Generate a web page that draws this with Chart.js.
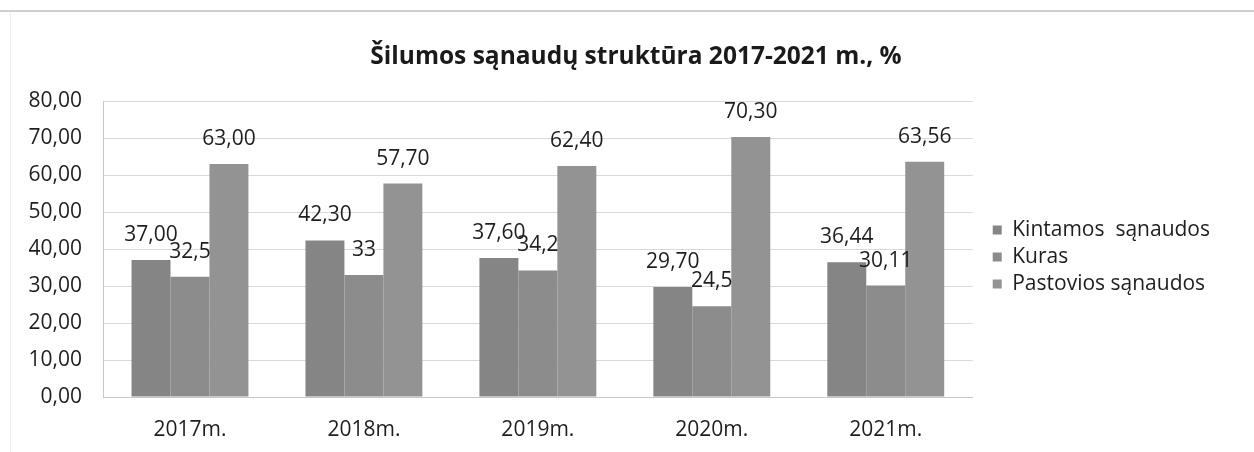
<!DOCTYPE html>
<html>
<head>
<meta charset="utf-8">
<script src="https://cdn.jsdelivr.net/npm/chart.js@4"></script>
<style>
  body { margin: 0; background: #fff; }
  #wrap { position: relative; width: 1254px; height: 452px; }
  #topline { position: absolute; left: 0; top: 10px; width: 1254px; height: 2px; background: #cfcfcf; }
  #leftline { position: absolute; left: 10px; top: 12px; width: 1px; height: 440px; background: #eeeeee; }
  canvas { position: absolute; left: 0; top: 0; }
</style>
</head>
<body>
<div id="wrap">
  <div id="topline"></div>
  <div id="leftline"></div>
  <canvas id="chart" width="1254" height="452"></canvas>
</div>
<script>
// chart data
const categories = ['2017m.', '2018m.', '2019m.', '2020m.', '2021m.'];
const kintamos = [37.00, 42.30, 37.60, 29.70, 36.44];
const kuras = [32.5, 33, 34.2, 24.5, 30.11];
const pastovios = [63.00, 57.70, 62.40, 70.30, 63.56];
const yMin = 0;
const yMax = 80;
const yStep = 10;
const chartTitle = 'Šilumos sąnaudų struktūra 2017-2021 m., %';

const FONT = 'Open Sans';

// value labels: two decimals for the cost series, as-is for "Kuras"
function fixed2(v) { return v.toFixed(2).replace('.', ','); }
function plain(v) { return String(v).replace('.', ','); }

const valueLabels = {
    id: 'valueLabels',
    afterDatasetsDraw(chart) {
        const ctx = chart.ctx;
        ctx.save();
        ctx.font = '21px "' + FONT + '"';
        ctx.fillStyle = '#1e1e1e';
        ctx.textAlign = 'center';
        ctx.textBaseline = 'alphabetic';
        chart.data.datasets.forEach((ds, i) => {
            const meta = chart.getDatasetMeta(i);
            meta.data.forEach((bar, j) => {
                ctx.fillText(ds.fmt(ds.data[j]), bar.x, bar.y - 19);
            });
        });
        ctx.restore();
    }
};

// the original title sits a bit right of the canvas centre, so draw it by hand
const offsetTitle = {
    id: 'offsetTitle',
    afterDraw(chart) {
        const ctx = chart.ctx;
        ctx.save();
        ctx.font = 'bold 24.5px "' + FONT + '"';
        ctx.fillStyle = '#1a1a1a';
        ctx.textAlign = 'center';
        ctx.textBaseline = 'middle';
        ctx.fillText(chartTitle, 636, 57);
        ctx.restore();
    }
};

function drawChart() {
    new Chart(document.getElementById('chart'), {
        type: 'bar',
        data: {
            labels: categories,
            datasets: [
                { label: 'Kintamos  sąnaudos', data: kintamos, backgroundColor: '#858585', fmt: fixed2 },
                { label: 'Kuras', data: kuras, backgroundColor: '#8c8c8c', fmt: plain },
                { label: 'Pastovios sąnaudos', data: pastovios, backgroundColor: '#939393', fmt: fixed2 }
            ]
        },
        options: {
            responsive: false,
            animation: false,
            layout: { padding: { left: 0, right: 34, top: 101, bottom: 0 } },
            datasets: {
                bar: { categoryPercentage: 0.672, barPercentage: 1.0 }
            },
            scales: {
                x: {
                    grid: { display: false },
                    border: { display: true, color: '#c8c8c8' },
                    ticks: { color: '#1e1e1e', font: { family: FONT, size: 21 }, padding: 12 },
                    afterFit: s => { s.height = 55; }
                },
                y: {
                    min: yMin,
                    max: yMax,
                    grid: { color: '#d9d9d9', drawTicks: false },
                    border: { display: true, color: '#c8c8c8' },
                    ticks: {
                        stepSize: yStep,
                        color: '#1e1e1e',
                        padding: 21,
                        font: { family: FONT, size: 21 },
                        callback: v => fixed2(v)
                    },
                    afterFit: s => { s.width = 103; }
                },
                // spacer between plot area and legend
                gap: {
                    type: 'linear',
                    position: 'right',
                    display: true,
                    grid: { display: false },
                    border: { display: false },
                    ticks: { display: false },
                    afterFit: s => { s.width = 14; }
                }
            },
            plugins: {
                title: { display: false },
                legend: {
                    position: 'right',
                    fullSize: false,
                    maxWidth: 300,
                    // empty legend title only nudges the items down a little
                    title: { display: true, text: '', font: { size: 10 }, padding: 2 },
                    labels: {
                        color: '#1e1e1e',
                        boxWidth: 9,
                        boxHeight: 9,
                        padding: 6,
                        font: { family: FONT, size: 21 }
                    }
                },
                tooltip: { enabled: false }
            }
        },
        plugins: [valueLabels, offsetTitle]
    });
}

// make sure the fonts are ready before Chart.js measures text
Promise.all([
    document.fonts.load('21px "' + FONT + '"', 'Kintamos sąnaudos 0123456789,'),
    document.fonts.load('bold 24.5px "' + FONT + '"', 'Šilumos sąnaudų struktūra')
]).then(drawChart, drawChart);
</script>
</body>
</html>
